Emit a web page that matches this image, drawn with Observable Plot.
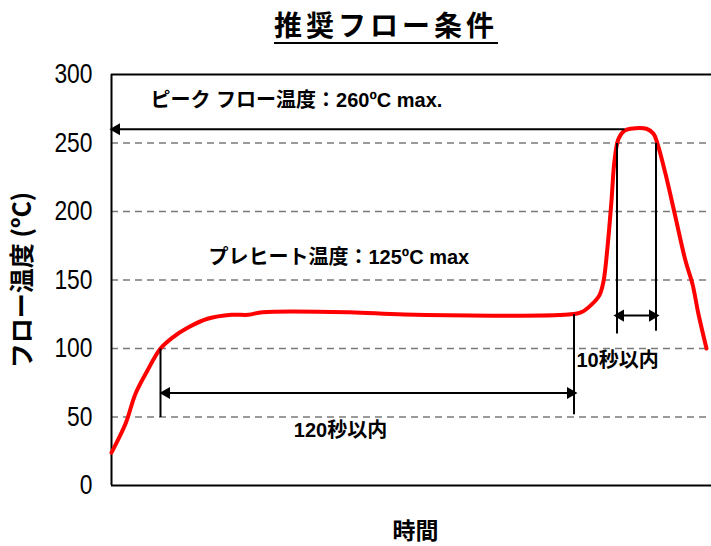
<!DOCTYPE html>
<html>
<head>
<meta charset="utf-8">
<script src="https://cdn.jsdelivr.net/npm/d3@7"></script>
<script src="https://cdn.jsdelivr.net/npm/@observablehq/plot@0.6"></script>
<style>
  body { margin: 0; background: #fff; width: 711px; height: 546px; overflow: hidden; position: relative; }
  #title { position: absolute; left: 386px; top: 6px; transform: translateX(-50%);
    font-family: "Noto Sans CJK JP", sans-serif; font-weight: bold; font-size: 28px; letter-spacing: 4px;
    text-decoration: underline; text-decoration-thickness: 2px; text-underline-offset: 6px; white-space: nowrap; line-height: 36px; }
  #chart { position: absolute; left: 0; top: 52px; }
</style>
</head>
<body>
<div id="title"></div>
<div id="chart"></div>
<script>
// ---- text ----
const chartTitle = "推奨フロー条件";
const yLabel = "フロー温度 (ºC)";
const xLabel = "時間";

// ---- scales / ticks ----
const timeDomain = [0, 600];          // arbitrary time units (no x ticks in the original)
const tempDomain = [0, 300];
const yTicks = [0, 50, 100, 150, 200, 250, 300];
const gridTemps = [50, 100, 150, 200, 250];

// ---- reflow profile ----
const profileTime = [0, 14, 24, 36, 49, 61, 77, 96, 120, 137, 151, 238, 293, 457, 470, 480, 488, 492,
  496, 500, 503, 507, 513, 519, 535, 542, 546, 554, 564, 574, 581, 587, 595];
const profileTemp = [24, 45, 67, 84, 100, 108, 115.5, 121.7, 124.6, 124.6, 126.5, 126.5, 124.8, 124.8, 126.5, 132, 139, 149,
  174, 208, 237, 253, 259, 260.4, 260.4, 256.7, 249.4, 227.5, 195.8, 164, 147, 125, 100];

// ---- annotation guide lines (time, temp) ----
const guideX1 = [513, 49, 462.5, 505.5, 544.5, 53, 507];
const guideY1 = [260, 100, 125, 250, 250, 67.5, 124];
const guideX2 = [6, 49, 462.5, 505.5, 544.5, 461, 543];
const guideY2 = [260, 50, 52, 111, 113, 67.5, 124];

// ---- arrow heads (time, temp, direction) ----
const headTime = [5, 55, 459, 509, 541];
const headTemp = [260, 67.5, 67.5, 124, 124];
const headDir = [-90, -90, 90, -90, 90];

// ---- annotation labels ----
const noteText = ["ピーク フロー温度：260ºC max.", "プレヒート温度：125ºC max", "120秒以内", "10秒以内"];
const noteTime = [39, 97, 229, 465];
const noteTemp = [281, 166.5, 40, 91];
const noteAnchor = ["start", "start", "middle", "start"];

document.getElementById("title").textContent = chartTitle;

const profile = profileTime.map((t, i) => ({t, v: profileTemp[i]}));
const guides = guideX1.map((x1, i) => ({x1, y1: guideY1[i], x2: guideX2[i], y2: guideY2[i]}));
const heads = headTime.map((t, i) => ({t, v: headTemp[i], dir: headDir[i]}));
const notes = noteText.map((text, i) => ({text, t: noteTime[i], v: noteTemp[i], anchor: noteAnchor[i]}));

const baseFont = "'Liberation Sans', Arial, 'Noto Sans CJK JP', sans-serif";

const chart = Plot.plot({
  width: 711,
  height: 494,
  marginTop: 22,
  marginBottom: 61,
  marginLeft: 111,
  marginRight: 0,
  x: {domain: timeDomain, axis: null},
  y: {domain: tempDomain},
  style: {fontFamily: baseFont, background: "#fff", overflow: "visible", color: "#000"},
  marks: [
    Plot.ruleY(gridTemps, {stroke: "#7a7a7a", strokeWidth: 1.5, strokeDasharray: "7,5"}),
    Plot.axisY(yTicks, {tickSize: 0, tickPadding: 19, fontSize: 28, label: null}),
    Plot.ruleY([tempDomain[0], tempDomain[1]], {stroke: "#000", strokeWidth: 2}),
    Plot.ruleX([timeDomain[0]], {stroke: "#000", strokeWidth: 2}),
    Plot.line(profile, {x: "t", y: "v", stroke: "#ff0000", strokeWidth: 4, curve: "catmull-rom"}),
    Plot.link(guides, {x1: "x1", y1: "y1", x2: "x2", y2: "y2", stroke: "#000", strokeWidth: 2}),
    Plot.dot(heads, {x: "t", y: "v", symbol: "triangle", r: 4.5, fill: "#000", stroke: "none", rotate: "dir"}),
    ...["start", "middle"].map(a => Plot.text(notes.filter(d => d.anchor === a),
      {x: "t", y: "v", text: "text", textAnchor: a, fontSize: 20, fontWeight: "bold", fill: "#000"})),
    Plot.text([xLabel], {frameAnchor: "bottom", lineAnchor: "middle", dx: 4, dy: 46, fontSize: 23, fontWeight: "bold",
      fontFamily: "'Noto Sans CJK JP', sans-serif", fill: "#000"}),
    Plot.text([yLabel], {frameAnchor: "left", textAnchor: "middle", dx: -89, rotate: -90, fontSize: 25, fontWeight: "bold",
      fontFamily: "'Noto Sans CJK JP', sans-serif", fill: "#000"})
  ]
});
// condensed tick digits, as in the original
d3.select(chart).selectAll("g[aria-label='y-axis tick label'] text").each(function() {
  const n = this.textContent.length;
  this.setAttribute("textLength", n * 12.7);
  this.setAttribute("lengthAdjust", "spacingAndGlyphs");
});
document.getElementById("chart").appendChild(chart);
</script>
</body>
</html>
